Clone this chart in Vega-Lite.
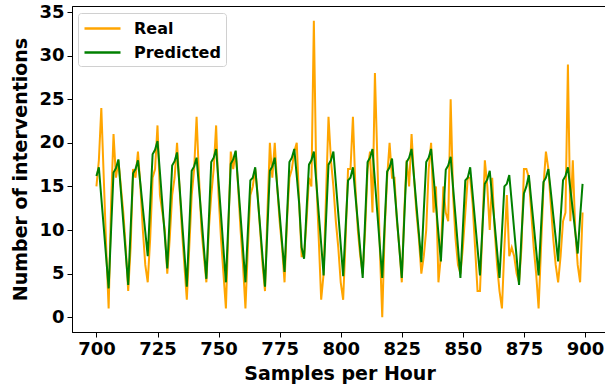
{
  "$schema": "https://vega.github.io/schema/vega-lite/v6.json",
  "width": 535,
  "height": 326,
  "autosize": "none",
  "padding": {"left": 72, "top": 6, "right": 0, "bottom": 53},
  "background": "white",
  "config": {
    "font": "DejaVu Sans",
    "view": {"stroke": "black", "strokeWidth": 1},
    "axis": {
      "grid": false,
      "domainColor": "black",
      "tickColor": "black",
      "tickSize": 5,
      "labelColor": "black",
      "labelFont": "DejaVu Sans",
      "labelFontWeight": "bold",
      "labelFontSize": 18,
      "titleFont": "DejaVu Sans",
      "titleFontWeight": "bold",
      "titleFontSize": 19,
      "titleColor": "black"
    }
  },
  "data": {
    "values": [
      {"sample":700,"real":15,"predicted":16.2},{"sample":701,"real":18,"predicted":17.2},{"sample":702,"real":24,"predicted":13.7},{"sample":703,"real":16,"predicted":10.3},{"sample":704,"real":8,"predicted":6.8},
      {"sample":705,"real":1,"predicted":3.3},{"sample":706,"real":13,"predicted":10.0},{"sample":707,"real":21,"predicted":16.6},{"sample":708,"real":16,"predicted":17.1},{"sample":709,"real":18,"predicted":18.1},{"sample":710,"real":15,"predicted":14.5},{"sample":711,"real":12,"predicted":10.9},{"sample":712,"real":8,"predicted":7.3},
      {"sample":713,"real":3,"predicted":3.7},{"sample":714,"real":8,"predicted":10.1},{"sample":715,"real":17,"predicted":16.5},{"sample":716,"real":16,"predicted":17.0},{"sample":717,"real":19,"predicted":18.0},{"sample":718,"real":15,"predicted":15.3},{"sample":719,"real":10,"predicted":12.5},{"sample":720,"real":6,"predicted":9.8},
      {"sample":721,"real":4,"predicted":7.0},{"sample":722,"real":9,"predicted":12.9},{"sample":723,"real":16,"predicted":18.7},{"sample":724,"real":17,"predicted":19.2},{"sample":725,"real":22,"predicted":20.2},{"sample":726,"real":14,"predicted":16.6},{"sample":727,"real":12,"predicted":12.9},{"sample":728,"real":10,"predicted":9.3},
      {"sample":729,"real":5,"predicted":5.6},{"sample":730,"real":9,"predicted":11.6},{"sample":731,"real":14,"predicted":17.4},{"sample":732,"real":16,"predicted":17.9},{"sample":733,"real":20,"predicted":18.9},{"sample":734,"real":15,"predicted":15.1},{"sample":735,"real":10,"predicted":11.2},{"sample":736,"real":6,"predicted":7.4},
      {"sample":737,"real":2,"predicted":3.5},{"sample":738,"real":8,"predicted":10.2},{"sample":739,"real":14,"predicted":16.8},{"sample":740,"real":17,"predicted":17.3},{"sample":741,"real":23,"predicted":18.3},{"sample":742,"real":16,"predicted":14.8},{"sample":743,"real":10,"predicted":11.4},{"sample":744,"real":7,"predicted":7.9},
      {"sample":745,"real":4,"predicted":4.4},{"sample":746,"real":10,"predicted":11.1},{"sample":747,"real":14,"predicted":17.8},{"sample":748,"real":17,"predicted":18.3},{"sample":749,"real":22,"predicted":19.3},{"sample":750,"real":14,"predicted":15.5},{"sample":751,"real":9,"predicted":11.7},{"sample":752,"real":5,"predicted":7.8},
      {"sample":753,"real":1,"predicted":4.0},{"sample":754,"real":10,"predicted":10.8},{"sample":755,"real":19,"predicted":17.6},{"sample":756,"real":17,"predicted":18.1},{"sample":757,"real":19,"predicted":19.1},{"sample":758,"real":15,"predicted":15.3},{"sample":759,"real":10,"predicted":11.6},{"sample":760,"real":6,"predicted":7.8},
      {"sample":761,"real":1,"predicted":4.0},{"sample":762,"real":8,"predicted":9.9},{"sample":763,"real":14,"predicted":15.7},{"sample":764,"real":15,"predicted":16.0},{"sample":765,"real":17,"predicted":17.2},{"sample":766,"real":14,"predicted":13.8},{"sample":767,"real":10,"predicted":10.4},{"sample":768,"real":6,"predicted":6.9},
      {"sample":769,"real":3,"predicted":3.5},{"sample":770,"real":12,"predicted":10.2},{"sample":771,"real":20,"predicted":16.8},{"sample":772,"real":16,"predicted":17.3},{"sample":773,"real":20,"predicted":18.3},{"sample":774,"real":15,"predicted":15.0},{"sample":775,"real":11,"predicted":11.8},{"sample":776,"real":8,"predicted":8.5},
      {"sample":777,"real":4,"predicted":5.2},{"sample":778,"real":11,"predicted":11.5},{"sample":779,"real":16,"predicted":17.8},{"sample":780,"real":17,"predicted":18.3},{"sample":781,"real":19,"predicted":19.3},{"sample":782,"real":20,"predicted":16.2},{"sample":783,"real":13,"predicted":13.0},{"sample":784,"real":7,"predicted":8.0},
      {"sample":785,"real":7,"predicted":6.7},{"sample":786,"real":11,"predicted":12.2},{"sample":787,"real":16,"predicted":17.5},{"sample":788,"real":15,"predicted":18.0},{"sample":789,"real":34,"predicted":19.0},{"sample":790,"real":16,"predicted":15.5},{"sample":791,"real":9,"predicted":11.9},{"sample":792,"real":2,"predicted":8.4},
      {"sample":793,"real":5,"predicted":4.8},{"sample":794,"real":14,"predicted":11.2},{"sample":795,"real":23,"predicted":17.5},{"sample":796,"real":18,"predicted":18.0},{"sample":797,"real":15,"predicted":19.0},{"sample":798,"real":11,"predicted":15.4},{"sample":799,"real":8,"predicted":11.9},{"sample":800,"real":4,"predicted":8.3},
      {"sample":801,"real":2,"predicted":4.7},{"sample":802,"real":9,"predicted":10.3},{"sample":803,"real":17,"predicted":15.7},{"sample":804,"real":17,"predicted":16.0},{"sample":805,"real":23,"predicted":17.2},{"sample":806,"real":15,"predicted":14.0},{"sample":807,"real":10,"predicted":10.9},{"sample":808,"real":7,"predicted":7.7},
      {"sample":809,"real":5,"predicted":4.5},{"sample":810,"real":10,"predicted":11.2},{"sample":811,"real":17,"predicted":17.8},{"sample":812,"real":19,"predicted":18.3},{"sample":813,"real":12,"predicted":19.3},{"sample":814,"real":28,"predicted":15.6},{"sample":815,"real":18,"predicted":11.9},{"sample":816,"real":8,"predicted":8.2},
      {"sample":817,"real":0,"predicted":4.5},{"sample":818,"real":10,"predicted":10.7},{"sample":819,"real":16,"predicted":16.7},{"sample":820,"real":20,"predicted":17.2},{"sample":821,"real":16,"predicted":18.2},{"sample":822,"real":16,"predicted":14.8},{"sample":823,"real":11,"predicted":11.4},{"sample":824,"real":8,"predicted":7.9},
      {"sample":825,"real":4,"predicted":4.5},{"sample":826,"real":12,"predicted":11.2},{"sample":827,"real":18,"predicted":17.8},{"sample":828,"real":15,"predicted":18.3},{"sample":829,"real":21,"predicted":19.3},{"sample":830,"real":16,"predicted":16.1},{"sample":831,"real":12,"predicted":12.8},{"sample":832,"real":9,"predicted":9.6},
      {"sample":833,"real":5,"predicted":6.3},{"sample":834,"real":7,"predicted":12.2},{"sample":835,"real":10,"predicted":17.8},{"sample":836,"real":17,"predicted":18.3},{"sample":837,"real":20,"predicted":19.3},{"sample":838,"real":12,"predicted":16.1},{"sample":839,"real":15,"predicted":12.9},{"sample":840,"real":4,"predicted":9.6},
      {"sample":841,"real":7,"predicted":6.4},{"sample":842,"real":15,"predicted":11.8},{"sample":843,"real":12,"predicted":16.9},{"sample":844,"real":11,"predicted":17.4},{"sample":845,"real":25,"predicted":18.4},{"sample":846,"real":14,"predicted":14.9},{"sample":847,"real":9,"predicted":11.5},{"sample":848,"real":6,"predicted":8.0},
      {"sample":849,"real":5,"predicted":4.5},{"sample":850,"real":8,"predicted":10.2},{"sample":851,"real":12,"predicted":15.7},{"sample":852,"real":16,"predicted":16.0},{"sample":853,"real":16,"predicted":17.2},{"sample":854,"real":13,"predicted":14.1},{"sample":855,"real":8,"predicted":11.0},{"sample":856,"real":3,"predicted":7.9},
      {"sample":857,"real":3,"predicted":4.8},{"sample":858,"real":10,"predicted":10.2},{"sample":859,"real":18,"predicted":15.3},{"sample":860,"real":15,"predicted":15.8},{"sample":861,"real":10,"predicted":16.8},{"sample":862,"real":16,"predicted":13.7},{"sample":863,"real":10,"predicted":10.7},{"sample":864,"real":6,"predicted":7.6},
      {"sample":865,"real":3,"predicted":4.5},{"sample":866,"real":1,"predicted":9.8},{"sample":867,"real":8,"predicted":15.0},{"sample":868,"real":14,"predicted":15.3},{"sample":869,"real":7,"predicted":16.3},{"sample":870,"real":8,"predicted":13.2},{"sample":871,"real":7,"predicted":10.0},{"sample":872,"real":5,"predicted":6.9},
      {"sample":873,"real":4,"predicted":3.7},{"sample":874,"real":8,"predicted":9.4},{"sample":875,"real":17,"predicted":14.2},{"sample":876,"real":17,"predicted":15.0},{"sample":877,"real":16,"predicted":16.3},{"sample":878,"real":12,"predicted":13.4},{"sample":879,"real":8,"predicted":10.6},{"sample":880,"real":5,"predicted":7.7},
      {"sample":881,"real":1,"predicted":4.8},{"sample":882,"real":8,"predicted":10.3},{"sample":883,"real":15,"predicted":15.5},{"sample":884,"real":19,"predicted":16.0},{"sample":885,"real":17,"predicted":17.0},{"sample":886,"real":13,"predicted":14.4},{"sample":887,"real":9,"predicted":11.7},{"sample":888,"real":6,"predicted":9.1},
      {"sample":889,"real":4,"predicted":6.4},{"sample":890,"real":7,"predicted":11.3},{"sample":891,"real":11,"predicted":15.7},{"sample":892,"real":12,"predicted":16.2},{"sample":893,"real":29,"predicted":17.2},{"sample":894,"real":11,"predicted":14.7},{"sample":895,"real":18,"predicted":12.3},{"sample":896,"real":10,"predicted":9.8},
      {"sample":897,"real":6,"predicted":7.3},{"sample":898,"real":4,"predicted":11.5},{"sample":899,"real":12,"predicted":15.3}
    ]
  },
  "encoding": {
    "x": {
      "field": "sample",
      "type": "quantitative",
      "scale": {"domain": [690, 909], "nice": false, "zero": false},
      "axis": {"values": [700, 725, 750, 775, 800, 825, 850, 875, 900], "title": "Samples per Hour", "labelPadding": 3, "titlePadding": 6}
    }
  },
  "layer": [
    {
      "mark": {"type": "line", "strokeWidth": 2, "interpolate": "linear"},
      "encoding": {
        "y": {
          "field": "real",
          "type": "quantitative",
          "scale": {"domain": [-1.7, 35.7], "nice": false, "zero": false},
          "axis": {"values": [0, 5, 10, 15, 20, 25, 30, 35], "title": "Number of interventions", "labelPadding": 3, "titlePadding": 8}
        },
        "color": {
          "datum": "Real",
          "scale": {"domain": ["Real", "Predicted"], "range": ["orange", "green"]},
          "legend": {
            "title": null,
            "orient": "none",
            "legendX": 6,
            "legendY": 7,
            "symbolType": "M-1,0H3",
            "symbolSize": 324,
            "symbolStrokeWidth": 2.5,
            "labelFont": "DejaVu Sans",
            "labelFontSize": 16,
            "labelFontWeight": "bold",
            "labelColor": "black",
            "labelOffset": 30,
            "rowPadding": 5,
            "padding": 5,
            "strokeColor": "#d0d0d0",
            "fillColor": "white",
            "cornerRadius": 3
          }
        }
      }
    },
    {
      "mark": {"type": "line", "strokeWidth": 2, "interpolate": "linear"},
      "encoding": {
        "y": {
          "field": "predicted",
          "type": "quantitative",
          "title": "Number of interventions"
        },
        "color": {"datum": "Predicted"}
      }
    }
  ]
}
